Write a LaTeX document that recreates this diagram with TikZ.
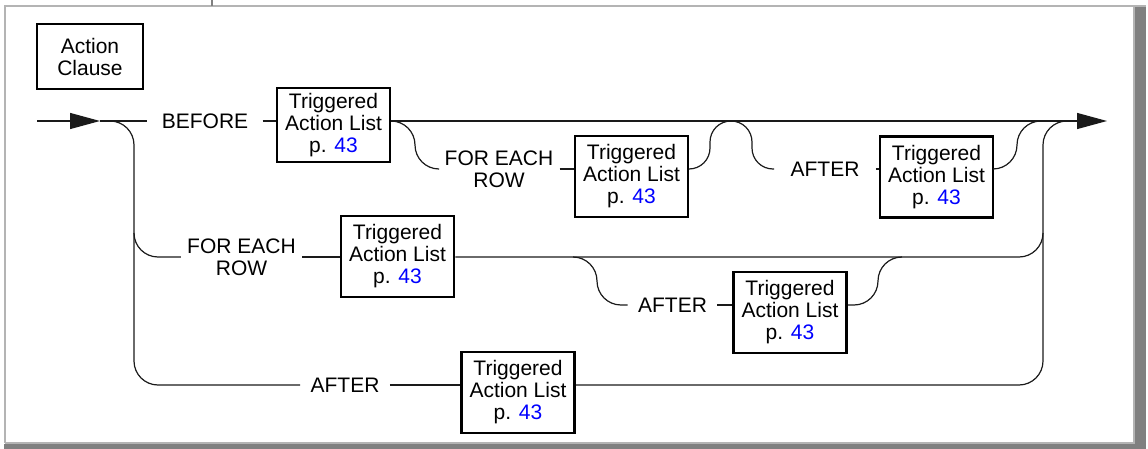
\documentclass[tikz,border=0pt]{standalone}
\usepackage{fontspec}
\setmainfont{Liberation Sans}
\usetikzlibrary{arrows.meta,positioning}
\definecolor{cvia}{HTML}{1A1A1A}
\definecolor{cenlace}{HTML}{0000FF}
\definecolor{cmarco}{HTML}{B4B4B4}
\definecolor{csombra}{HTML}{808080}
\newcommand{\textotal}{Triggered\\Action List\\p. \textcolor{cenlace}{43}}
\tikzset{
  caja/.style={draw=black,line width=1.3pt,align=center,inner sep=0pt,
               minimum width=56.5pt,minimum height=40.5pt,
               font=\fontsize{10.5}{11}\selectfont},
  palabra/.style={align=center,inner xsep=5pt,inner ysep=0pt,
                  font=\fontsize{10.5}{11}\selectfont},
  via/.style={draw=cvia,line width=0.6pt},
  viac/.style={via,rounded corners=12pt},
  punta/.style={-{Triangle[length=15pt,width=8pt]}},
}

\begin{document}
\begin{tikzpicture}[x=0.5pt,y=-0.5pt]
\useasboundingbox (0,0) rectangle (1148,449);

% ---------------- marco ----------------
\fill[csombra] (1134,7) rectangle (1146,449);
\fill[csombra] (4,444) rectangle (1146,449);
\draw[cmarco,line width=1pt] (5,443) -- (5,6) -- (1146,6);
\draw[cmarco,line width=0.6pt] (5,443) -- (1134,443) -- (1134,6);
\draw[csombra,line width=0.6pt] (212,0) -- (212,6);

% ---------------- nodos ----------------
\node[caja,minimum width=53pt,minimum height=32.5pt] (ac) at (90,56.5) {Action\\Clause};
\coordinate (ini) at (37,121);
\coordinate (fin) at (1107,121);

\node[palabra,inner xsep=7pt] (kb) at (205,121) {BEFORE};
\node[caja,minimum height=37pt] (t1) at (333.5,125) {\textotal};
\node[palabra,inner xsep=3pt] (kf1) at (499,169) {FOR EACH\\ROW};
\node[caja]    (t4)  at (631.5,176.5) {\textotal};
\node[palabra,inner xsep=8pt] (ka1) at (825,169) {AFTER};
\node[caja]    (t5)  at (936.5,177) {\textotal};

\node[palabra,inner xsep=3pt] (kf2) at (241.5,257) {FOR EACH\\ROW};
\node[caja]    (t2)  at (397.5,256.5) {\textotal};
\node[palabra] (ka2) at (672.5,305) {AFTER};
\node[caja]    (t6)  at (790,312.5) {\textotal};

\node[palabra] (ka3) at (345,385)   {AFTER};
\node[caja]    (t3)  at (518,392.5) {\textotal};

% ---------------- fila BEFORE ----------------
\draw[via,punta] (ini) -- (100,121);
\draw[via] (100,121) -- (kb) -- (kb -| t1.west);
\draw[via,punta] (t1.east |- kb) -- (fin);
\draw[viac] (t1.east |- kb) -- (415,121) -- (415,169) -- (kf1);
\draw[via] (kf1) -- (kf1 -| t4.west);
\draw[via,rounded corners=10.5pt] (kf1 -| t4.east) -- (710,169) -- (710,121)
  -- (752,121) -- (752,169) -- (ka1);
\draw[via] (ka1) -- (ka1 -| t5.west);
\draw[viac] (ka1 -| t5.east) -- (1017,169) -- (1017,121) -- (1041,121);

% ---------------- columna izquierda y fila FOR EACH ROW ----------------
\draw[viac] (110,121) -- (134,121) -- (134,385) -- (ka3);
\draw[viac] (134,233) -- (134,257) -- (kf2);
\draw[via] (kf2) -- (kf2 -| t2.west);
\draw[viac] (kf2 -| t2.east) -- (1043,257) -- (1043,233);
\draw[viac] (573,257) -- (597,257) -- (597,305) -- (ka2);
\draw[via] (ka2) -- (ka2 -| t6.west);
\draw[viac] (ka2 -| t6.east) -- (878,305) -- (878,257) -- (902,257);

% ---------------- fila AFTER y columna derecha ----------------
\draw[via] (ka3) -- (ka3 -| t3.west);
\draw[viac] (ka3 -| t3.east) -- (1043,385) -- (1043,121) -- (1067,121);

\end{tikzpicture}
\end{document}
